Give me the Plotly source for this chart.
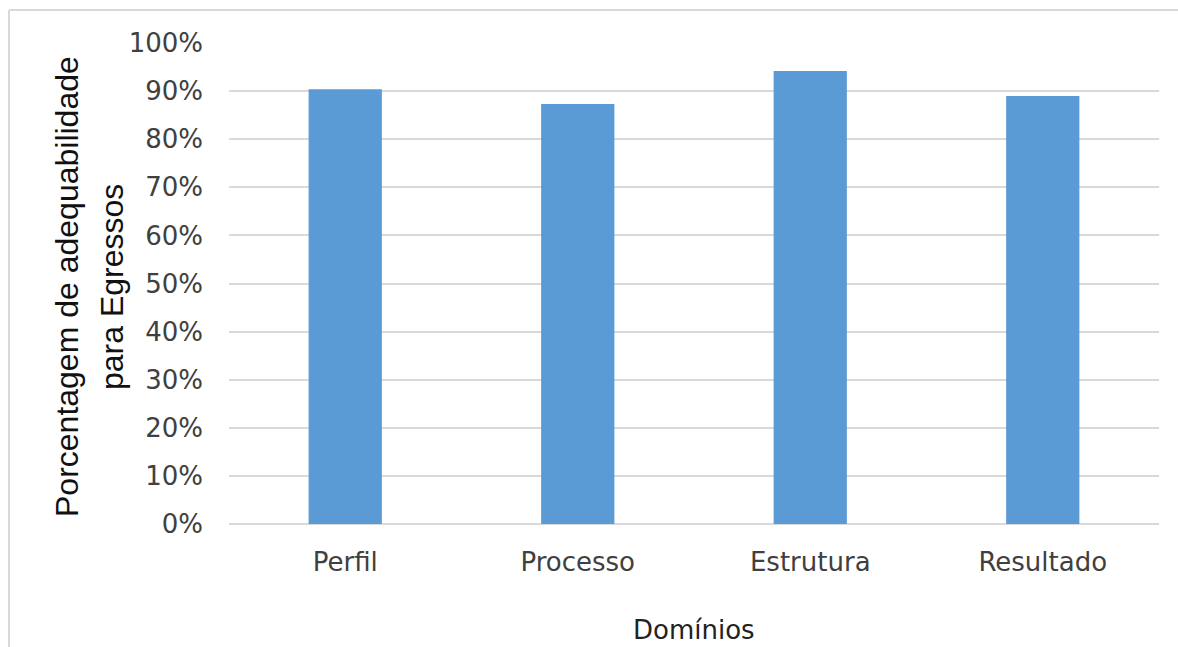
import plotly.graph_objects as go

# Domains and share of adequacy for graduates
dominios = ["Perfil", "Processo", "Estrutura", "Resultado"]
adequabilidade = [0.904, 0.873, 0.942, 0.890]
y_ticks = [0, 0.1, 0.2, 0.3, 0.4, 0.5, 0.6, 0.7, 0.8, 0.9, 1.0]
y_tick_labels = ["0%", "10%", "20%", "30%", "40%", "50%", "60%", "70%", "80%", "90%", "100%"]
y_title_lines = ["Porcentagem de adequabilidade", "para Egressos"]

W, H = 1178, 647
L, R, T, B = 229, 19, 43, 123
PW, PH = W - L - R, H - T - B
FONT = "DejaVu Sans, Verdana, sans-serif"
TITLE_FONT = "Liberation Sans, Arial, sans-serif"
TICK_COLOR = "#404040"
GRID = "#d9d9d9"

fig = go.Figure(
    go.Bar(
        x=dominios,
        y=adequabilidade,
        marker=dict(color="#5b9bd5", line=dict(width=0)),
        width=0.315,
        hoverinfo="x+y",
    )
)

fig.update_layout(
    width=W,
    height=H,
    margin=dict(l=L, r=R, t=T, b=B, pad=0),
    paper_bgcolor="white",
    plot_bgcolor="white",
    showlegend=False,
    font=dict(family=FONT, size=26, color=TICK_COLOR),
    xaxis=dict(
        showgrid=False,
        showline=False,
        zeroline=False,
        ticks="",
        tickfont=dict(family=FONT, size=26, color=TICK_COLOR),
        ticklabelstandoff=20,
    ),
    yaxis=dict(
        range=[0, 1.0],
        tickvals=y_ticks,
        ticktext=y_tick_labels,
        showgrid=True,
        gridcolor=GRID,
        gridwidth=1.5,
        zeroline=True,
        zerolinecolor=GRID,
        zerolinewidth=1.5,
        showline=False,
        ticks="",
        tickfont=dict(family=FONT, size=26, color=TICK_COLOR),
        ticklabelstandoff=25,
    ),
)

# y-axis title, one annotation per line
for line_text, px in zip(y_title_lines, [67, 112]):
    fig.add_annotation(
        text=line_text,
        xref="paper", yref="paper",
        x=(px - L) / PW, y=(H - B - 287) / PH,
        xanchor="center", yanchor="middle",
        textangle=-90,
        showarrow=False,
        font=dict(family=TITLE_FONT, size=32, color="#111111"),
    )

# x-axis title
fig.add_annotation(
    text="Domínios",
    xref="paper", yref="paper",
    x=(694 - L) / PW, y=-(630 - (H - B)) / PH,
    xanchor="center", yanchor="middle",
    showarrow=False,
    font=dict(family=FONT, size=26, color="#222222"),
)

# chart-area frame (left and top edges)
fx0 = (9 - L) / PW
fx1 = (W - L) / PW
fy_top = 1 + (T - 10) / PH
fy_bot = -B / PH
fig.add_shape(type="line", xref="paper", yref="paper",
              x0=fx0, x1=fx1, y0=fy_top, y1=fy_top,
              line=dict(color=GRID, width=2))
fig.add_shape(type="line", xref="paper", yref="paper",
              x0=fx0, x1=fx0, y0=fy_top, y1=fy_bot,
              line=dict(color=GRID, width=2))

fig.write_html("out.html")
